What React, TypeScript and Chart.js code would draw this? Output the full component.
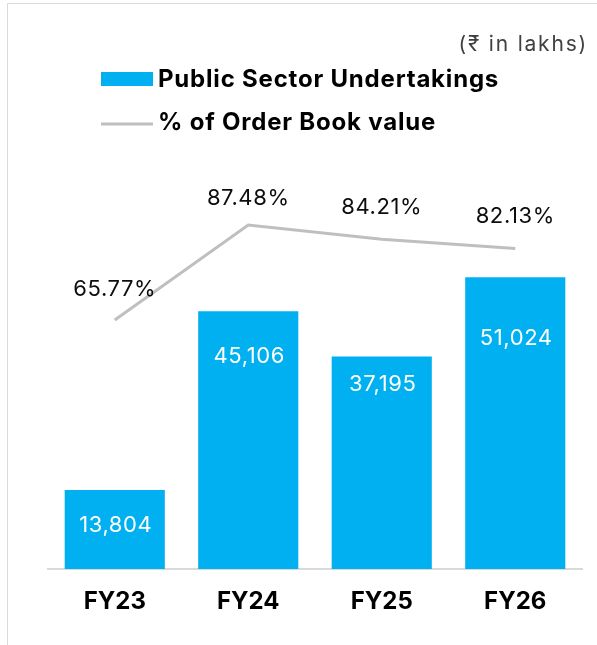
import React, { useEffect, useRef } from "react";
import { Chart, registerables } from "chart.js";

Chart.register(...registerables);

const categories = ["FY23", "FY24", "FY25", "FY26"];
const psuValues = [13804, 45106, 37195, 51024];
const orderBookPct = [65.77, 87.48, 84.21, 82.13];
const legendLabels = ["Public Sector Undertakings", "% of Order Book value"];
const unitNote = "(₹ in lakhs)";

// label placement offsets (px) relative to the mark
const barLabelDrop = [35, 45, 28, 61];
const pctLabelLift = [31, 27, 32, 32];

const BLUE = "#00B0F0";
const GREY_LINE = "#BFBFBF";
const FONT = "Inter, 'Noto Sans', sans-serif";

const decorPlugin = {
  id: "decor",
  beforeDraw(chart: any) {
    const ctx = chart.ctx;
    ctx.save();
    ctx.fillStyle = "#ffffff";
    ctx.fillRect(0, 0, chart.width, chart.height);
    ctx.strokeStyle = "#D9D9D9";
    ctx.lineWidth = 1;
    ctx.beginPath();
    ctx.moveTo(7.5, 3.5);
    ctx.lineTo(7.5, chart.height);
    ctx.moveTo(7.5, 3.5);
    ctx.lineTo(chart.width, 3.5);
    ctx.stroke();
    ctx.restore();
  },
  afterDraw(chart: any) {
    const ctx = chart.ctx;
    ctx.save();
    // unit note
    ctx.font = `400 21px ${FONT}`;
    (ctx as any).letterSpacing = "1.8px";
    ctx.fillStyle = "#404040";
    ctx.textAlign = "right";
    ctx.textBaseline = "middle";
    ctx.fillText(unitNote, 588, 45);
    // legend
    ctx.fillStyle = BLUE;
    ctx.fillRect(101, 72, 52, 14);
    ctx.strokeStyle = GREY_LINE;
    ctx.lineWidth = 3;
    ctx.beginPath();
    ctx.moveTo(101, 124);
    ctx.lineTo(153, 124);
    ctx.stroke();
    ctx.font = `700 24px ${FONT}`;
    (ctx as any).letterSpacing = "0.8px";
    ctx.fillStyle = "#000000";
    ctx.textAlign = "left";
    ctx.textBaseline = "middle";
    ctx.fillText(legendLabels[0], 158, 80);
    ctx.fillText(legendLabels[1], 158, 123);
    ctx.restore();
  },
  afterDatasetsDraw(chart: any) {
    const ctx = chart.ctx;
    ctx.save();
    ctx.textAlign = "center";
    ctx.textBaseline = "middle";
    ctx.font = `400 22px ${FONT}`;
    (ctx as any).letterSpacing = "0.6px";
    const barMeta = chart.getDatasetMeta(0);
    barMeta.data.forEach((el: any, i: number) => {
      ctx.fillStyle = "#ffffff";
      ctx.fillText(psuValues[i].toLocaleString("en-US"), el.x + 1, el.y + barLabelDrop[i]);
    });
    const lineMeta = chart.getDatasetMeta(1);
    lineMeta.data.forEach((el: any, i: number) => {
      ctx.fillStyle = "#0D0D0D";
      ctx.fillText(orderBookPct[i].toFixed(2) + "%", el.x, el.y - pctLabelLift[i]);
    });
    ctx.restore();
  },
};

export default function App() {
  const ref = useRef<HTMLCanvasElement | null>(null);
  useEffect(() => {
    if (!ref.current) return;
    const chart = new Chart(ref.current, {
      type: "bar",
      data: {
        labels: categories,
        datasets: [
          {
            type: "bar",
            label: legendLabels[0],
            data: psuValues,
            backgroundColor: BLUE,
            borderWidth: 0,
            categoryPercentage: 1,
            barPercentage: 0.75,
            yAxisID: "y",
            order: 2,
          },
          {
            type: "line",
            label: legendLabels[1],
            data: orderBookPct,
            borderColor: GREY_LINE,
            borderWidth: 3,
            pointRadius: 0,
            tension: 0,
            fill: false,
            yAxisID: "y1",
            order: 1,
          } as any,
        ],
      },
      options: {
        responsive: false,
        animation: false,
        events: [],
        layout: { padding: { left: 48, right: 15, top: 150, bottom: 30 } },
        plugins: {
          legend: { display: false },
          tooltip: { enabled: false },
          title: { display: false },
        },
        scales: {
          x: {
            grid: { display: false, drawTicks: false },
            border: { display: true, color: "#D9D9D9", width: 2 },
            ticks: {
              color: "#000000",
              font: { family: FONT, size: 24, weight: "bold" },
              padding: 18,
            },
            afterFit: (scale: any) => {
              scale.height = 46;
            },
          },
          y: {
            display: false,
            min: 0,
            max: 73300,
          },
          y1: {
            display: false,
            min: 8.9,
            max: 104.6,
            position: "right",
          },
        },
      },
      plugins: [decorPlugin],
    });
    return () => chart.destroy();
  }, []);
  return (
    <div style={{ position: "fixed", left: 0, top: 0, width: 597, height: 645, background: "#fff" }}>
      <canvas ref={ref} width={597} height={645} style={{ display: "block" }} />
    </div>
  );
}
